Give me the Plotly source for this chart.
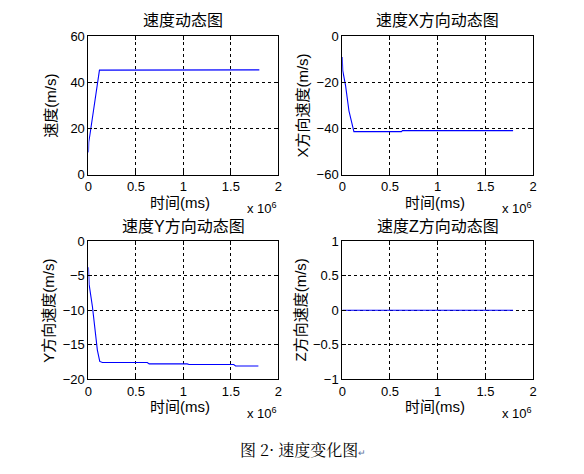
import plotly.graph_objs as go

# time axis in ms, values in m/s
speed_t = [0, 3000, 14000, 116000, 1800000]
speed_v = [9.6, 14.0, 16.8, 45.2, 45.3]

vx_t = [0, 3000, 5000, 35000, 70000, 122000, 620000, 630000, 1790000]
vx_v = [-9.1, -11.0, -15.0, -21.6, -32.4, -41.4, -41.4, -41.0, -41.0]

vy_t = [0, 7000, 42000, 94000, 119000, 147000, 620000, 640000, 1040000, 1060000, 1530000, 1550000, 1790000]
vy_v = [-3.75, -6.25, -9.5, -15.8, -17.45, -17.6, -17.6, -17.8, -17.8, -17.9, -17.9, -18.1, -18.1]

vz_t = [0, 1790000]
vz_v = [0, 0]

x_ticks = [0, 500000, 1000000, 1500000, 2000000]
x_ticktext = ["0", "0.5", "1", "1.5", "2"]

titles = ["速度动态图", "速度X方向动态图", "速度Y方向动态图", "速度Z方向动态图"]
ylabels = ["速度(m/s)", "X方向速度(m/s)", "Y方向速度(m/s)", "Z方向速度(m/s)"]
yranges = [[0, 60], [-60, 0], [-20, 0], [-1, 1]]
yticks = [[0, 20, 40, 60], [-60, -40, -20, 0], [-20, -15, -10, -5, 0], [-1, -0.5, 0, 0.5, 1]]

W, H = 584, 474
FONT = "Liberation Sans, Arial, Noto Sans CJK SC"

def px(x, y):
    # pixel position in the target picture -> paper coords
    # (small correction for the page offset seen in the screenshot)
    x = (x - 11.5) / 0.987
    y = (y - 14) / 0.971
    return x / W, 1 - y / H

# axes boxes in pixels: (left, right, top, bottom)
boxes = [(88, 278, 35, 174), (342, 533, 35, 174), (88, 278, 241, 379), (342, 533, 241, 379)]
# x position of the rotated y titles
ylabel_x = [50, 302, 48, 300]

fig = go.Figure()

series = [(speed_t, speed_v), (vx_t, vx_v), (vy_t, vy_v), (vz_t, vz_v)]
for i, (t, v) in enumerate(series):
    sfx = "" if i == 0 else str(i + 1)
    fig.add_trace(
        go.Scatter(
            x=t,
            y=v,
            mode='lines',
            line={'color': "#0000FF", 'width': 1.1},
            xaxis="x" + sfx,
            yaxis="y" + sfx,
            showlegend=False,
        )
    )

layout = {}
annotations = []
for i, (l, r, top, bot) in enumerate(boxes):
    sfx = "" if i == 0 else str(i + 1)
    x0, y1 = px(l, top)
    x1, y0 = px(r, bot)
    axis_common = dict(
        showline=True, mirror="ticks", linecolor="black", linewidth=1,
        ticks="inside", ticklen=4, tickcolor="black",
        showgrid=True, gridcolor="black", gridwidth=1, griddash="3px,3px",
        zeroline=False, tickfont={"family": FONT, "size": 13, "color": "black"},
    )
    layout["xaxis" + sfx] = dict(
        domain=[x0, x1], anchor="y" + sfx, range=[0, 2000000],
        tickvals=x_ticks, ticktext=x_ticktext, **axis_common,
    )
    layout["yaxis" + sfx] = dict(
        domain=[y0, y1], anchor="x" + sfx, range=yranges[i],
        tickvals=yticks[i], **axis_common,
    )

    cx = (l + r) / 2
    # subplot title
    ax, ay = px(cx, top - 15)
    annotations.append(dict(x=ax, y=ay, xref="paper", yref="paper", text=titles[i], showarrow=False,
                            font={"family": FONT, "size": 16, "color": "black"}, xanchor="center", yanchor="middle"))
    # x axis title
    ax, ay = px(cx - 3, bot + 28)
    annotations.append(dict(x=ax, y=ay, xref="paper", yref="paper", text="时间(ms)", showarrow=False,
                            font={"family": FONT, "size": 15, "color": "black"}, xanchor="center", yanchor="middle"))
    # exponent label
    ax, ay = px(r + 1, bot + 34)
    annotations.append(dict(x=ax, y=ay, xref="paper", yref="paper", text="x 10<sup>6</sup>", showarrow=False,
                            font={"family": FONT, "size": 13, "color": "black"}, xanchor="right", yanchor="middle"))
    # y axis title
    ax, ay = px(ylabel_x[i], (top + bot) / 2)
    annotations.append(dict(x=ax, y=ay, xref="paper", yref="paper", text=ylabels[i], showarrow=False, textangle=-90,
                            font={"family": FONT, "size": 15, "color": "black"}, xanchor="center", yanchor="middle"))

# caption below the figure
ax, ay = px(303, 450)
annotations.append(dict(x=ax, y=ay, xref="paper", yref="paper",
                        text="图 2· 速度变化图<span style='font-size:9px;color:#5a6e9a'>↵</span>", showarrow=False,
                        font={"family": "Noto Serif CJK SC, Noto Sans CJK SC", "size": 16, "color": "black"},
                        xanchor="center", yanchor="middle"))

fig.update_layout(
    width=W,
    height=H,
    margin={'t': 0, 'l': 0, 'r': 0, 'b': 0},
    paper_bgcolor="white",
    plot_bgcolor="white",
    annotations=annotations,
    **layout,
)

fig.write_html("out.html")
